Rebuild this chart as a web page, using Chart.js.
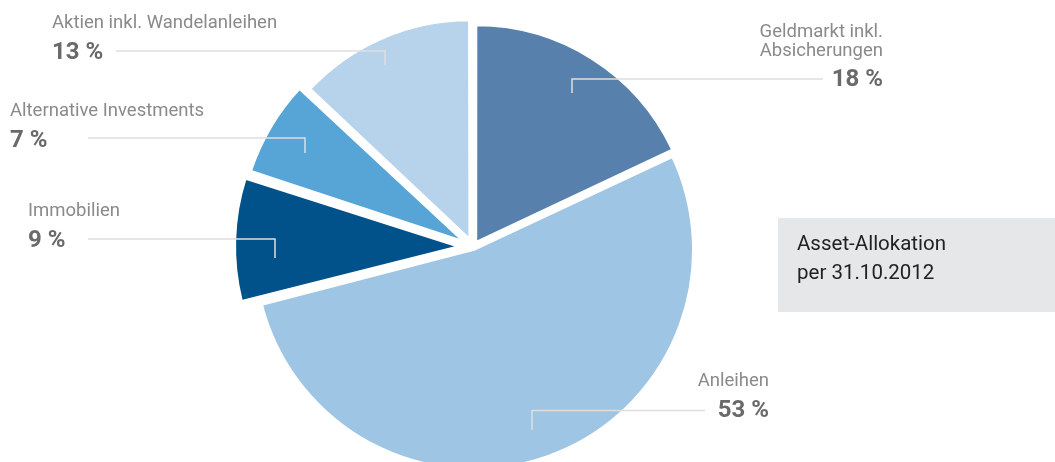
<!DOCTYPE html>
<html><head><meta charset="utf-8">
<script src="https://cdn.jsdelivr.net/npm/chart.js@4.4.0/dist/chart.umd.min.js"></script>
<style>
html,body{margin:0;padding:0;background:#fff;}
#wrap{position:relative;width:1055px;height:462px;overflow:hidden;font-family:Roboto,"Noto Sans",sans-serif;}
#wrap canvas{position:absolute;left:0;top:0;}
.t{position:absolute;white-space:nowrap;}
.nm{color:#8a8a8a;font-size:18.5px;line-height:18.5px;}
.pc{color:#6a6a6a;font-size:24px;line-height:24px;font-weight:bold;}
#box{position:absolute;left:778px;top:218px;width:277px;height:94px;background:#e6e7e9;}
.bx{color:#222;font-size:20.5px;line-height:20.5px;}
</style></head><body>
<div id="wrap"><div id="box"></div><canvas id="c" width="1055" height="462"></canvas></div>
<script>
// ---- data ----
const categories = ['Geldmarkt inkl. Absicherungen', 'Anleihen', 'Immobilien', 'Alternative Investments', 'Aktien inkl. Wandelanleihen'];
const shares = [18, 53, 9, 7, 13];
const valueLabels = ['18 %', '53 %', '9 %', '7 %', '13 %'];
const nameLines = [['Geldmarkt inkl.', 'Absicherungen'], ['Anleihen'], ['Immobilien'], ['Alternative Investments'], ['Aktien inkl. Wandelanleihen']];
const boxLines = ['Asset-Allokation', 'per 31.10.2012'];

// ---- styles / layout ----
const colors = ['#5781ac', '#9fc5e5', '#01528a', '#57a5d6', '#b7d3eb'];
const explode = [24, 12, 60, 48, 36];
const labelLayout = [
  {align:'right', x:883, names:[37.5, 57], pct:86, ly:79, lx0:823, lx1:572, ly2:93},
  {align:'right', x:769, names:[387], pct:417.5, ly:410.5, lx0:705, lx1:532, ly2:430},
  {align:'left', x:28, names:[217], pct:247, ly:239, lx0:88, lx1:275, ly2:258},
  {align:'left', x:10, names:[117], pct:147, ly:138, lx0:88, lx1:305, ly2:153},
  {align:'left', x:52, names:[29], pct:59, ly:51, lx0:116, lx1:385, ly2:65}
];

const wrap = document.getElementById('wrap');
function addText(cls, text, align, x, baseline, size) {
  const d = document.createElement('div');
  d.className = 't ' + cls;
  d.textContent = text;
  d.style.top = (baseline - 0.842 * size) + 'px';
  if (align === 'right') d.style.right = (1055 - x) + 'px'; else d.style.left = x + 'px';
  wrap.appendChild(d);
}
labelLayout.forEach((l, i) => {
  nameLines[i].forEach((s, j) => addText('nm', s, l.align, l.x, l.names[j], 18.5));
  addText('pc', valueLabels[i], l.align, l.x, l.pct, 24);
});
addText('bx', boxLines[0], 'left', 797, 250, 20.5);
addText('bx', boxLines[1], 'left', 797, 279, 20.5);

const leaderPlugin = {
  id: 'leaders',
  afterDatasetsDraw(chart) {
    const ctx = chart.ctx;
    ctx.save();
    ctx.strokeStyle = '#dedede';
    ctx.lineWidth = 1.5;
    labelLayout.forEach(l => {
      ctx.beginPath();
      ctx.moveTo(l.lx0, l.ly);
      ctx.lineTo(l.lx1, l.ly);
      ctx.lineTo(l.lx1, l.ly2);
      ctx.stroke();
    });
    ctx.restore();
  }
};

new Chart(document.getElementById('c'), {
  type: 'pie',
  data: {
    labels: categories,
    datasets: [{
      data: shares,
      backgroundColor: colors,
      borderColor: '#ffffff',
      borderWidth: 2,
      offset: explode,
      hoverOffset: 0
    }]
  },
  options: {
    responsive: false,
    animation: false,
    events: [],
    radius: 216,
    rotation: 0,
    layout: {padding: {left: 0, right: 109, top: 32, bottom: 0}},
    plugins: {legend: {display: false}, tooltip: {enabled: false}, title: {display: false}}
  },
  plugins: [leaderPlugin]
});
</script>
</body></html>
